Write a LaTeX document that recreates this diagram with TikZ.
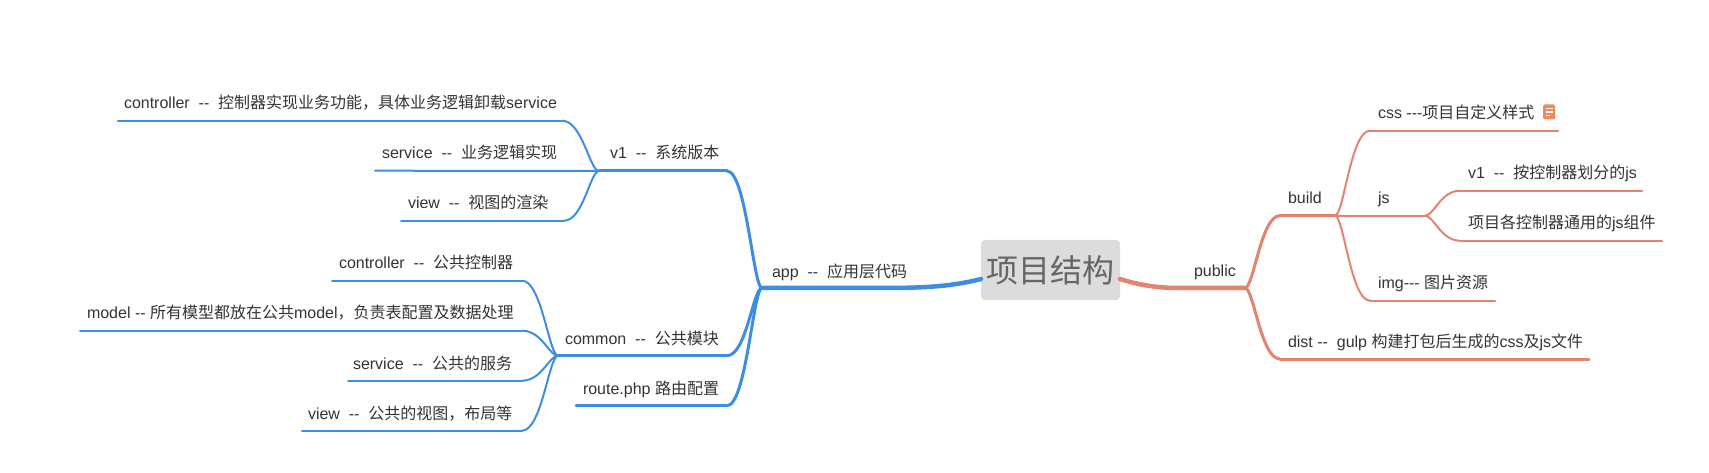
\documentclass[tikz,border=0pt]{standalone}
\usepackage{fontspec}
\setmainfont[Ligatures=NoCommon]{Liberation Sans}
\newfontfamily\cjk{Noto Sans CJK SC}
\newcommand{\zh}[1]{{\cjk #1}}
\newcommand{\dd}{-{}-}
\usetikzlibrary{calc}
\definecolor{bl}{HTML}{3D8EE2}
\definecolor{sa}{HTML}{E38370}
\definecolor{tx}{HTML}{333333}
\definecolor{rootbg}{HTML}{DCDCDC}
\definecolor{roottx}{HTML}{666666}
\definecolor{ico}{HTML}{F0885A}
\tikzset{
  lab/.style={anchor=base west,inner sep=0pt,outer sep=0pt,text=tx,yshift=-1pt,font=\fontsize{16}{16}\selectfont},
  thin1/.style={line width=2pt,line cap=round},
  mid1/.style={line width=3pt,line cap=round},
  root1/.style={line width=4.5pt,line cap=round},
}
% #2 = junction, #3 = far end of the curve
\newcommand{\cv}[3]{\draw[#1] (#2) .. controls ($(#2)!.25!(#3 |- #2)$) and ($(#3)!.55!(#2 |- #3)$) .. (#3);}
\begin{document}
\begin{tikzpicture}[x=1pt,y=-1pt]
\useasboundingbox (0,0) rectangle (1709,473);
% root
\node[fill=rootbg,rounded corners=4pt,minimum width=139pt,minimum height=60pt,inner sep=0pt,text=roottx,font=\fontsize{32}{32}\selectfont] (root) at (1050.5,270) {\zh{项目结构}};
% coordinates
\coordinate (rl) at (981,279);
\coordinate (rr) at (1120,279);
\coordinate (appJ) at (762,288);
\coordinate (appM) at (880,288);
\coordinate (pubJ) at (1245,288);
\coordinate (pubM) at (1180,288);
\coordinate (v1J) at (599,171);
\coordinate (v1R) at (727,171);
\coordinate (comJ) at (558,355.7);
\coordinate (comR) at (727,355.7);
\coordinate (rtL) at (576,405.7);
\coordinate (rtR) at (727,405.7);
\coordinate (a1L) at (118,120.7);
\coordinate (a1R) at (562,120.7);
\coordinate (a2L) at (375,170.7);
\coordinate (a3L) at (401,220.7);
\coordinate (a3R) at (564,220.7);
\coordinate (c1L) at (332,280.7);
\coordinate (c1R) at (522,280.7);
\coordinate (c2L) at (80,330.7);
\coordinate (c2R) at (522,330.7);
\coordinate (c3L) at (348,380.7);
\coordinate (c3R) at (522,380.7);
\coordinate (c4L) at (302,430.7);
\coordinate (c4R) at (522,430.7);
\coordinate (buJ) at (1335,215.7);
\coordinate (buL) at (1280,215.7);
\coordinate (diL) at (1280,359);
\coordinate (diR) at (1589,359);
\coordinate (csL) at (1370,130.7);
\coordinate (csR) at (1558,130.7);
\coordinate (jsJ) at (1425,215.7);
\coordinate (imL) at (1370,300.7);
\coordinate (imR) at (1495,300.7);
\coordinate (j1L) at (1460,190.7);
\coordinate (j1R) at (1642,190.7);
\coordinate (j2L) at (1460,240.7);
\coordinate (j2R) at (1662,240.7);
% left branch
\begin{scope}[color=bl]
\draw[root1] (rl) .. controls (950,287) and (920,288) .. (appM) -- (appJ);
\cv{mid1}{appJ}{v1R} \draw[mid1] (v1R) -- (v1J);
\cv{mid1}{appJ}{comR} \draw[mid1] (comR) -- (comJ);
\cv{mid1}{appJ}{rtR} \draw[mid1] (rtR) -- (rtL);
\cv{thin1}{v1J}{a1R} \draw[thin1] (a1R) -- (a1L);
\draw[thin1] (v1J) -- (a2L);
\cv{thin1}{v1J}{a3R} \draw[thin1] (a3R) -- (a3L);
\cv{thin1}{comJ}{c1R} \draw[thin1] (c1R) -- (c1L);
\cv{thin1}{comJ}{c2R} \draw[thin1] (c2R) -- (c2L);
\cv{thin1}{comJ}{c3R} \draw[thin1] (c3R) -- (c3L);
\cv{thin1}{comJ}{c4R} \draw[thin1] (c4R) -- (c4L);
\end{scope}
% right branch
\begin{scope}[color=sa]
\draw[root1] (rr) .. controls (1145,287) and (1165,288) .. (pubM) -- (pubJ);
\cv{mid1}{pubJ}{buL} \draw[mid1] (buL) -- (buJ);
\cv{mid1}{pubJ}{diL} \draw[mid1] (diL) -- (diR);
\cv{thin1}{buJ}{csL} \draw[thin1] (csL) -- (csR);
\draw[thin1] (buJ) -- (jsJ);
\cv{thin1}{buJ}{imL} \draw[thin1] (imL) -- (imR);
\cv{thin1}{jsJ}{j1L} \draw[thin1] (j1L) -- (j1R);
\cv{thin1}{jsJ}{j2L} \draw[thin1] (j2L) -- (j2R);
\end{scope}
% labels
\node[lab] (a1) at (124,108) {controller~~\dd~~\zh{控制器实现业务功能，具体业务逻辑卸载}service};
\node[lab] (a2) at (382,158) {service~~\dd~~\zh{业务逻辑实现}};
\node[lab] (a3) at (408,208) {view~~\dd~~\zh{视图的渲染}};
\node[lab] (v1) at (610,158) {v1~~\dd~~\zh{系统版本}};
\node[lab] (app) at (772,276) {app~~\dd~~\zh{应用层代码}};
\node[lab] (c1) at (339,268) {controller~~\dd~~\zh{公共控制器}};
\node[lab] (c2) at (87,318) {model \dd{} \zh{所有模型都放在公共}model\zh{，负责表配置及数据处理}};
\node[lab] (c3) at (353,368) {service~~\dd~~\zh{公共的服务}};
\node[lab] (c4) at (308,418) {view~~\dd~~\zh{公共的视图，布局等}};
\node[lab] (com) at (565,343) {common~~\dd~~\zh{公共模块}};
\node[lab] (rt) at (583,393) {route.php \zh{路由配置}};
\node[lab] (pub) at (1194,275.5) {public};
\node[lab] (bu) at (1288,203) {build};
\node[lab] (di) at (1288,346.5) {dist \dd~~gulp \zh{构建打包后生成的}css\zh{及}js\zh{文件}};
\node[lab] (cs) at (1378,118) {css \dd{}-\zh{项目自定义样式}};
\node[lab] (js) at (1378,203) {js};
\node[lab] (im) at (1378,288) {img\dd{}- \zh{图片资源}};
\node[lab] (j1) at (1468,178) {v1~~\dd~~\zh{按控制器划分的}js};
\node[lab] (j2) at (1468,228) {\zh{项目各控制器通用的}js\zh{组件}};
% note icon
\node[fill=ico,rounded corners=1.5pt,minimum width=12pt,minimum height=15pt,inner sep=0pt] (note) at (1549,112) {};
\foreach \yy/\ww in {-3.5/7,0/7,3.5/4.5}
  \fill[white] ($(note.center)+(-3.5,\yy-.6)$) rectangle ++(\ww,1.2);
\end{tikzpicture}
\end{document}
